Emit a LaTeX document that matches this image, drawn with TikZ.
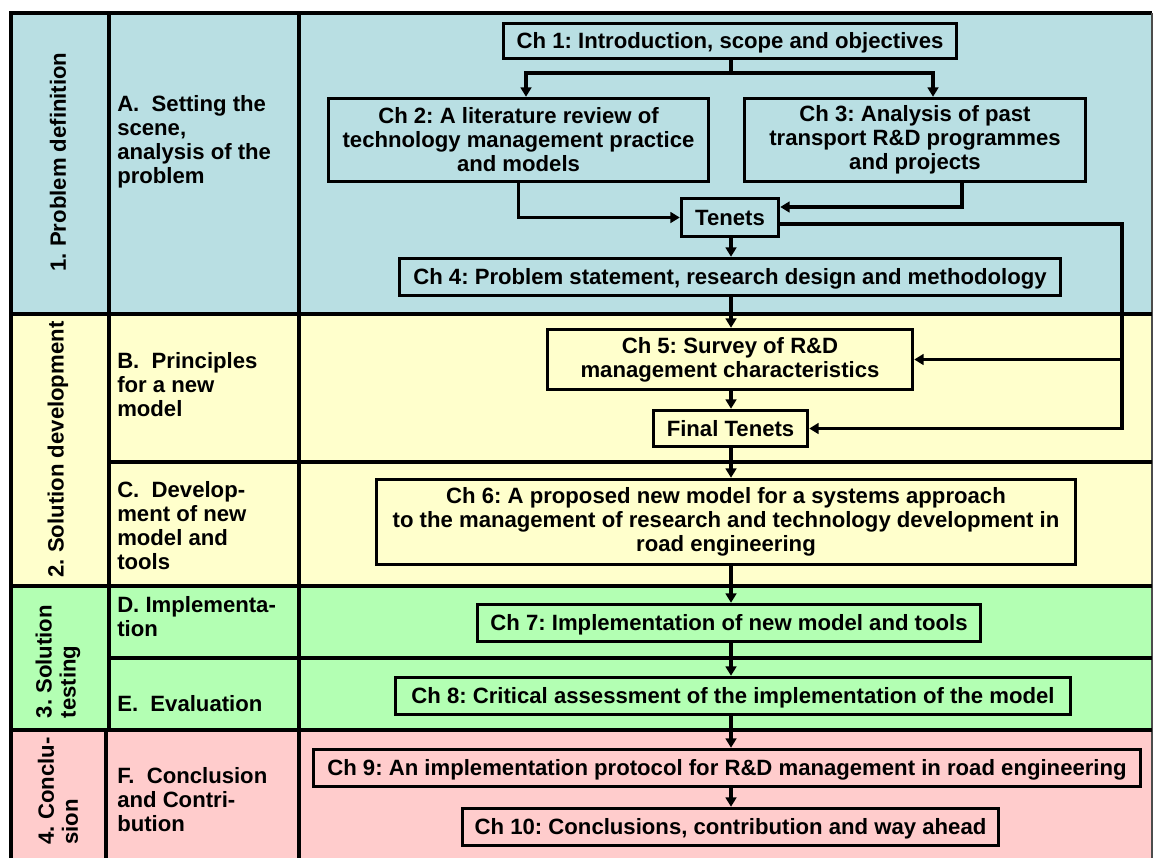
\documentclass[tikz,border=0pt]{standalone}
\usepackage{fontspec}
\setmainfont{Liberation Sans}
\usetikzlibrary{arrows.meta,calc}
\definecolor{bandA}{RGB}{185,223,227}
\definecolor{bandB}{RGB}{255,255,204}
\definecolor{bandC}{RGB}{179,255,179}
\definecolor{bandD}{RGB}{255,204,204}
\frenchspacing

\begin{document}
\begin{tikzpicture}[x=0.75pt,y=-0.75pt,
  every node/.style={font=\bfseries\fontsize{16.6}{18}\selectfont},
  grid/.style={line width=2.6pt},
  box/.style 2 args={minimum width=#1*0.75pt, minimum height=#2*0.75pt},
  chap/.style={draw, line width=2.6pt, inner sep=0pt, align=center},
  single/.style={text height=11.9pt, text depth=0pt},
  conn/.style={line width=2.4pt},
  arr/.style={conn, -{Triangle[length=7pt,width=8pt]}},
  lbl/.style={anchor=base west, inner sep=0pt},
  phase/.style={rotate=90, align=left, inner sep=0pt}]

\useasboundingbox (0,0) rectangle (1155,858);

% coloured bands of the four phases
\fill[bandA] (11,13) rectangle (1152,314);
\fill[bandB] (11,314) rectangle (1152,586);
\fill[bandC] (11,586) rectangle (1152,730);
\fill[bandD] (11,730) rectangle (1152,858);

% table rules
\draw[grid] (11,858) -- (11,13) -- (1152,13);
\draw[line width=0.8pt, black!70] (1152,13) -- (1152,858);
\draw[grid] (11,314) -- (1152,314);
\draw[grid] (109,462) -- (1152,462);
\draw[grid] (11,586) -- (1152,586);
\draw[grid] (109,658) -- (1152,658);
\draw[grid] (11,730) -- (1152,730);
\draw[grid] (109,13) -- (109,730);
\draw[grid] (106,730) -- (106,858);
\draw[grid] (299,13) -- (299,858);

% phase names
\node[phase] (p1) at (58,162) {1. Problem definition};
\node[phase] (p2) at (58,449.5) {2. Solution development};
\node[phase] (p3) at (58,661.5) {3. Solution\\testing};
\node[phase] (p4) at (58,791) {4. Conclu-\\sion};

% step names
\node[lbl] (la) at (117,111) {\begin{tabular}[t]{@{}l@{}}A.~~Setting the\\scene,\\analysis of the\\problem\end{tabular}};
\node[lbl] (lb) at (117,368) {\begin{tabular}[t]{@{}l@{}}B.~~Principles\\for a new\\model\end{tabular}};
\node[lbl] (lc) at (117,497) {\begin{tabular}[t]{@{}l@{}}C.~~Develop-\\ment of new\\model and\\tools\end{tabular}};
\node[lbl] (ld) at (117,612) {\begin{tabular}[t]{@{}l@{}}D. Implementa-\\tion\end{tabular}};
\node[lbl] (le) at (117,711) {E.~~Evaluation};
\node[lbl] (lf) at (117,783) {\begin{tabular}[t]{@{}l@{}}F.~~Conclusion\\and Contri-\\bution\end{tabular}};

% chapters
\node[chap, single, box={453}{35}] (ch1) at (730,41) {Ch 1: Introduction, scope and objectives};
\node[chap, box={380}{83}] (ch2) at (518.5,140) {Ch 2: A literature review of\\technology management practice\\and models};
\node[chap, box={341}{83}] (ch3) at (915,140) {Ch 3: Analysis of past\\transport R\&D programmes\\and projects};
\node[chap, single, box={97}{38}] (ten) at (730,217.5) {Tenets};
\node[chap, single, box={661}{37}] (ch4) at (730,277) {Ch 4: Problem statement, research design and methodology};
\node[chap, box={365}{60}] (ch5) at (730,359.5) {Ch 5: Survey of R\&D\\management characteristics};
\node[chap, single, box={154}{36}] (fin) at (730.5,428.5) {Final Tenets};
\node[chap, box={699}{85}] (ch6) at (726,522) {Ch 6: A proposed new model for a systems approach\\to the management of research and technology development in\\road engineering};
\node[chap, single, box={503}{37}] (ch7) at (729,623) {Ch 7: Implementation of new model and tools};
\node[chap, single, box={675}{37}] (ch8) at (733,696) {Ch 8: Critical assessment of the implementation of the model};
\node[chap, single, box={827}{37}] (ch9) at (727,768) {Ch 9: An implementation protocol for R\&D management in road engineering};
\node[chap, single, box={536}{37}] (ch10) at (730.5,827) {Ch 10: Conclusions, contribution and way ahead};

% connectors
\coordinate (spine) at (731,0);
\coordinate (j1) at (731,73);
\coordinate (loop) at (1122,224);

\draw[conn] (spine |- ch1.south) -- (j1);
\draw[arr] (j1) -| ($(ch2.north)+(7.5,0)$);
\draw[arr] (j1) -| ($(ch3.north)+(18,0)$);
\draw[arr] (ch2.south) |- (ten.west);
\draw[arr] ($(ch3.south)+(47,0)$) |- ($(ten.east)+(0,-10.5)$);
\draw[arr] (ten.east |- loop) -- (loop) |- (fin.east);
\draw[arr] (loop |- ch5.east) -- (ch5.east);

\draw[arr] (spine |- ten.south) -- (spine |- ch4.north);
\draw[arr] (spine |- ch4.south) -- (spine |- ch5.north);
\draw[arr] (spine |- ch5.south) -- (spine |- fin.north);
\draw[arr] (spine |- fin.south) -- (spine |- ch6.north);
\draw[arr] (spine |- ch6.south) -- (spine |- ch7.north);
\draw[arr] (spine |- ch7.south) -- (spine |- ch8.north);
\draw[arr] (spine |- ch8.south) -- (spine |- ch9.north);
\draw[arr] (spine |- ch9.south) -- (spine |- ch10.north);

\end{tikzpicture}
\end{document}
